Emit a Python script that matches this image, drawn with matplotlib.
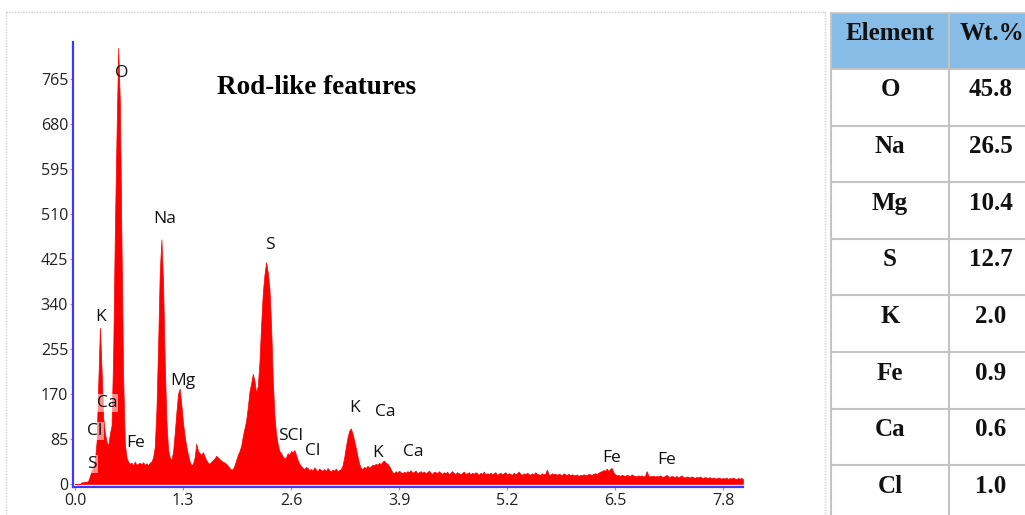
import numpy as np
import matplotlib
matplotlib.use("Agg")
import matplotlib.pyplot as plt
from matplotlib.patches import Rectangle

# ---------------- data ----------------
channel_width = 0.02  # keV per channel
counts = [
    0, 0, 0, 0, 3, 3, 4, 4, 6, 15,                 # 0.00
    25, 32, 45, 80, 190, 295, 215, 125, 95, 80,    # 0.20
    72, 95, 110, 250, 480, 660, 824, 720, 450, 200,  # 0.40
    75, 50, 42, 38, 40, 35, 42, 36, 38, 40,        # 0.60
    37, 41, 36, 39, 35, 40, 42, 50, 70, 140,       # 0.80
    260, 400, 462, 380, 230, 120, 65, 50, 45, 60,  # 1.00
    95, 135, 170, 180, 150, 115, 90, 70, 55, 42,   # 1.20
    35, 38, 50, 76, 62, 58, 55, 60, 52, 45,        # 1.40
    40, 38, 42, 45, 48, 53, 50, 47, 44, 42,        # 1.60
    40, 38, 34, 30, 27, 28, 35, 45, 55, 62,        # 1.80
    72, 90, 105, 120, 145, 175, 190, 208, 195, 172,  # 2.00
    185, 230, 300, 360, 395, 419, 400, 370, 300, 200,  # 2.20
    130, 95, 75, 62, 58, 52, 48, 50, 58, 55,       # 2.40
    62, 60, 64, 55, 45, 38, 34, 30, 28, 32,        # 2.60
    30, 26, 28, 25, 31, 27, 24, 29, 26, 25,        # 2.80
    28, 24, 30, 26, 23, 27, 25, 29, 24, 26,        # 3.00
    28, 35, 50, 70, 88, 100, 105, 95, 82, 68,      # 3.20
    52, 38, 30, 28, 32, 30, 34, 31, 33, 36,        # 3.40
    35, 38, 36, 40, 37, 42, 44, 40, 38, 34,        # 3.60
    28, 22, 20, 24, 21, 25, 22, 20, 23, 21,        # 3.80
    24, 22, 26, 21, 23, 25, 20, 22, 24, 21,        # 4.00
    23, 20, 22, 25, 21, 19, 23, 22, 20, 24,        # 4.20
    21, 19, 22, 20, 23, 18, 21, 24, 20, 19,        # 4.40
    22, 20, 18, 21, 23, 19, 20, 22, 18, 21,        # 4.60
    19, 22, 20, 17, 21, 19, 23, 18, 20, 19,        # 4.80
    21, 18, 20, 22, 17, 19, 21, 18, 20, 22,        # 5.00
    18, 20, 19, 17, 21, 18, 20, 23, 19, 17,        # 5.20
    20, 18, 21, 19, 17, 20, 18, 22, 19, 18,        # 5.40
    17, 20, 18, 19, 27, 18, 17, 20, 18, 19,        # 5.60
    17, 19, 18, 16, 20, 18, 17, 19, 16, 18,        # 5.80
    17, 16, 18, 15, 17, 16, 18, 17, 16, 19,        # 6.00
    18, 17, 19, 20, 19, 21, 23, 24, 26, 25,        # 6.20
    29, 24, 28, 30, 22, 18, 16, 17, 15, 17,        # 6.40
    16, 15, 17, 16, 15, 18, 16, 15, 14, 16,        # 6.60
    15, 16, 14, 15, 24, 16, 14, 15, 15, 14,        # 6.80
    15, 14, 16, 14, 13, 15, 17, 14, 13, 15,        # 7.00
    14, 13, 15, 12, 14, 16, 13, 12, 14, 13,        # 7.20
    12, 14, 13, 11, 13, 12, 14, 12, 11, 13,        # 7.40
    12, 11, 13, 10, 12, 11, 10, 12, 11, 10,        # 7.60
    11, 10, 12, 9, 11, 10, 12, 10, 9, 11,          # 7.80
    10, 11, 9,                                     # 8.00
]
energy = np.arange(len(counts)) * channel_width

x_ticks = [0.0, 1.3, 2.6, 3.9, 5.2, 6.5, 7.8]
y_ticks = [0, 85, 170, 255, 340, 425, 510, 595, 680, 765]

peak_labels = ["O", "Na", "S", "K", "Mg", "Ca", "Cl", "Fe", "S",
               "SCl", "Cl", "K", "Ca", "K", "Ca", "Fe", "Fe"]
peak_label_e = [0.566, 1.083, 2.347, 0.313, 1.30, 0.385, 0.241, 0.734, 0.205,
                2.60, 2.864, 3.37, 3.74, 3.646, 4.067, 6.462, 7.124]
peak_label_c = [777, 501, 452, 316, 195, 153, 100, 77, 38,
                91, 62, 144, 136, 59, 60, 49, 45]
boxed_labels = [5, 6, 8]

title_text = "Rod-like features"

table_elements = ["O", "Na", "Mg", "S", "K", "Fe", "Ca", "Cl"]
table_wt = ["45.8", "26.5", "10.4", "12.7", "2.0", "0.9", "0.6", "1.0"]
table_header = ["Element", "Wt.%"]

# ---------------- figure ----------------
W, H = 1025, 515
fig = plt.figure(figsize=(W / 100, H / 100), dpi=100)
fig.patch.set_facecolor("white")

def fx(px):
    return px / W

def fy(py):
    return 1 - py / H

ax = fig.add_axes([fx(73), fy(486.5), fx(743) - fx(73), fy(42) - fy(486.5)])

ax.fill_between(energy, counts, 0, facecolor="#ff0000", edgecolor="#ff0000",
                linewidth=0.5, zorder=2)

ax.set_xlim(-0.024, 8.04)
ax.set_ylim(-5, 835)
for s in ["top", "right"]:
    ax.spines[s].set_visible(False)
for s in ["left", "bottom"]:
    ax.spines[s].set_color("#3a3aff")
    ax.spines[s].set_linewidth(1.6)
    ax.spines[s].set_zorder(3)
ax.set_xticks(x_ticks)
ax.set_xticklabels([f"{v:.1f}" for v in x_ticks])
ax.set_yticks(y_ticks)
ax.set_yticklabels([str(v) for v in y_ticks])
ax.tick_params(axis="both", colors="#999999", labelcolor="#222222",
               labelsize=11.5, length=2, width=0.8, direction="out", pad=1.5)
ax.tick_params(axis="x", pad=3)
for lab in ax.get_xticklabels() + ax.get_yticklabels():
    lab.set_family("Open Sans")

for i, (t, e, c) in enumerate(zip(peak_labels, peak_label_e, peak_label_c)):
    kw = {}
    if i in boxed_labels:
        kw["bbox"] = dict(boxstyle="square,pad=0.05", facecolor="white",
                          edgecolor="none", alpha=0.55)
    ax.text(e, c, t, ha="center", va="center", fontsize=12.5,
            family="Open Sans", color="#111111", zorder=4, **kw)

fig.text(fx(317), fy(87), title_text, ha="center", va="center",
         family="Liberation Serif", fontweight="bold", fontsize=19.5, color="black")

# ---------------- overlay (border + table) ----------------
ov = fig.add_axes([0, 0, 1, 1], zorder=-1)
ov.set_xlim(0, W)
ov.set_ylim(H, 0)
ov.axis("off")

border_kw = dict(color="#cfcfcf", linewidth=1.0, linestyle=(0, (1, 1)))
ov.plot([6, 825], [12, 12], **border_kw)
ov.plot([6, 6], [12, H], **border_kw)
ov.plot([825, 825], [12, H], **border_kw)

tab = fig.add_axes([0, 0, 1, 1], zorder=3)
tab.set_xlim(0, W)
tab.set_ylim(H, 0)
tab.axis("off")
tab.patch.set_alpha(0)

col_x = [831, 949, 1030]
header_top, header_bot = 13, 69
row_h = 56.6
n_rows = len(table_elements)
tab.add_patch(Rectangle((col_x[0], header_top), col_x[2] - col_x[0],
                        header_bot - header_top, facecolor="#86bce6",
                        edgecolor="none"))
line_c = "#c4c4c4"
tab.plot([col_x[0], col_x[2]], [header_top, header_top], color=line_c, lw=1.2)
for k in range(n_rows + 1):
    yy = header_bot + k * row_h
    tab.plot([col_x[0], col_x[2]], [yy, yy], color=line_c, lw=1.5)
for xx in col_x[:2]:
    tab.plot([xx, xx], [header_top, H + 5], color=line_c, lw=1.5)

tkw = dict(ha="center", va="center", family="Liberation Serif",
           fontweight="bold", fontsize=18, color="#111111")
tab.text(890, 34, table_header[0], **tkw)
tab.text(992, 34, table_header[1], **tkw)
for k, (el, wt) in enumerate(zip(table_elements, table_wt)):
    yc = header_bot + k * row_h + 21
    tab.text(890, yc, el, **tkw)
    tab.text(991, yc, wt, **tkw)

fig.savefig("out.png", dpi=100)
